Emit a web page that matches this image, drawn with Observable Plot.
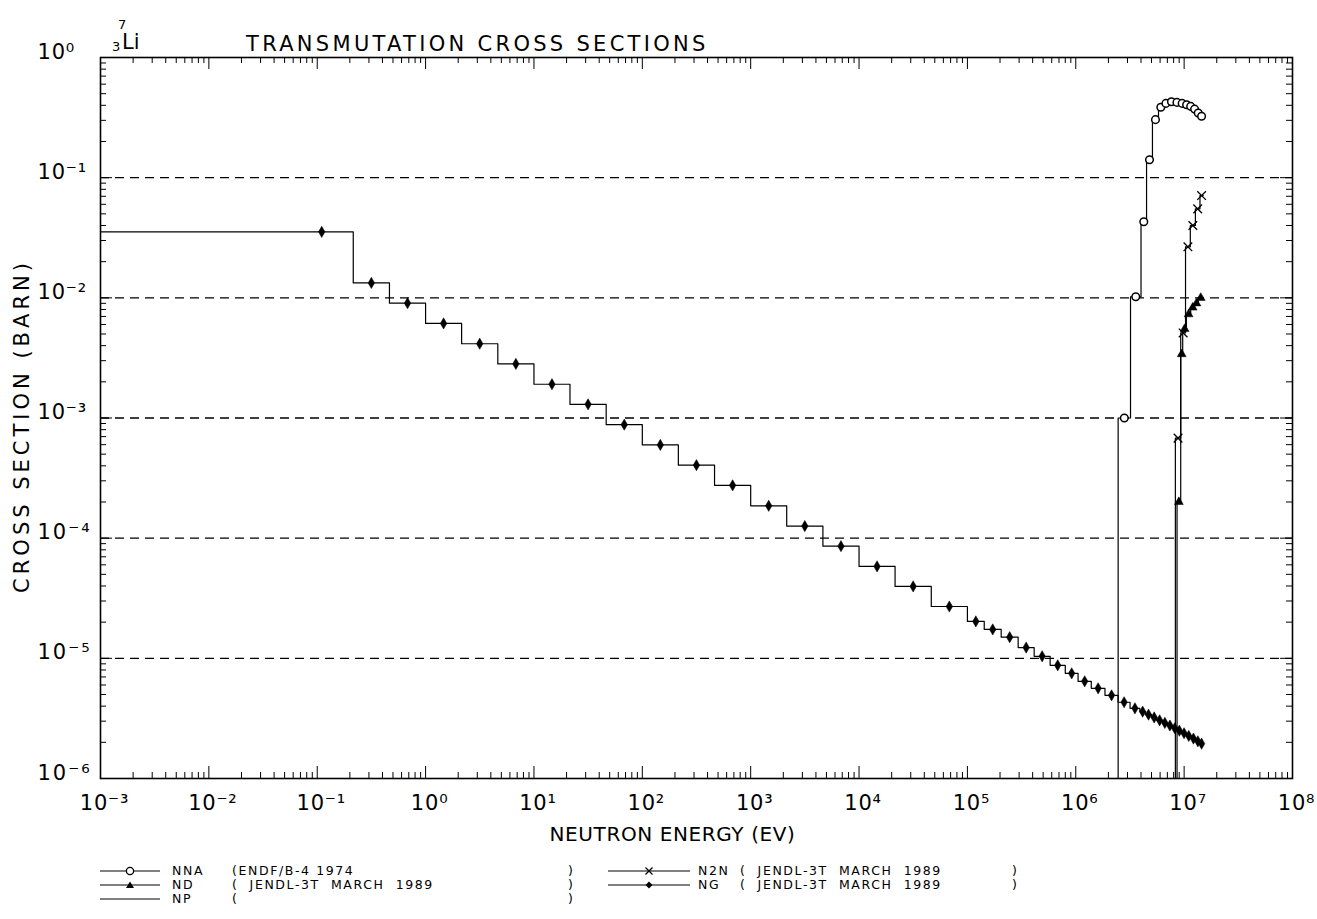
<!DOCTYPE html>
<html><head><meta charset="utf-8">
<script src="https://cdn.jsdelivr.net/npm/d3@7"></script>
<script src="https://cdn.jsdelivr.net/npm/@observablehq/plot@0.6"></script>
<style>
body{margin:0;background:#fff;}
#wrap{position:relative;width:1317px;height:919px;overflow:hidden;font-family:"DejaVu Sans",sans-serif;color:#000;background:#fff;}
#chart{position:absolute;left:0;top:0;}
.t{position:absolute;white-space:pre;line-height:1;}
#title{left:246px;top:34px;font-size:21px;letter-spacing:3.3px;}
.leg{position:absolute;font-size:12.5px;letter-spacing:1.6px;white-space:pre;line-height:1;}
.legsym{position:absolute;}
</style></head><body>
<div id="wrap">
<div id="chart"></div>
<div id="title" class="t">TRANSMUTATION CROSS SECTIONS</div>
<div id="legend"></div>
</div>
<script>
// ---------- axis ticks ----------
const xTickValues = [1e-3,1e-2,1e-1,1e0,1e1,1e2,1e3,1e4,1e5,1e6,1e7,1e8];
const xTickLabels = ["10⁻³","10⁻²","10⁻¹","10⁰","10¹","10²","10³","10⁴","10⁵","10⁶","10⁷","10⁸"];
const yTickValues = [1e0,1e-1,1e-2,1e-3,1e-4,1e-5,1e-6];
const yTickLabels = ["10⁰","10⁻¹","10⁻²","10⁻³","10⁻⁴","10⁻⁵","10⁻⁶"];
const gridValues = [1e-1,1e-2,1e-3,1e-4,1e-5];

// ---------- NG (capture), JENDL-3T : group edges (eV) and cross sections (barn) ----------
const ngEdges = [1e-3,0.215,0.464,1,2.15,4.64,10,21.5,46.4,100,215,464,1000,2150,4640,1e4,2.15e4,4.64e4,
  1e5,1.43e5,2.05e5,2.94e5,4.13e5,5.8e5,8e5,1.05e6,1.39e6,1.86e6,2.46e6,3.17e6,3.9e6,
  4.4e6,5.0e6,5.6e6,6.3e6,7.0e6,7.8e6,8.6e6,9.5e6,1.05e7,1.16e7,1.28e7,1.4e7,1.5e7];
const ngValues = [0.0354,
  0.0133,0.00903,0.00612,0.00415,0.00282,0.00191,0.00130,0.000880,0.000597,0.000405,0.000275,0.000186,0.000126,8.58e-5,5.82e-5,3.97e-5,2.70e-5,
  2.03e-5,1.74e-5,1.50e-5,1.23e-5,1.04e-5,8.75e-6,7.5e-6,6.44e-6,5.63e-6,4.92e-6,4.31e-6,3.84e-6,
  3.6e-6,3.4e-6,3.22e-6,3.05e-6,2.9e-6,2.76e-6,2.62e-6,2.5e-6,2.38e-6,2.26e-6,2.15e-6,2.04e-6,1.95e-6];
const ngFirstMarker = 0.11;

// ---------- NNA (n,n'alpha), ENDF/B-4 ----------
const nnaEdges = [2.46e6,3.2e6,4.0e6,4.5e6,5.1e6,5.8e6,6.4e6,7.2e6,8.1e6,9.1e6,1.01e7,1.1e7,1.2e7,1.3e7,1.4e7,1.5e7];
const nnaValues = [1.0e-3,0.0102,0.043,0.141,0.304,0.385,0.415,0.428,0.423,0.415,0.404,0.392,0.372,0.345,0.324];

// ---------- N2N, JENDL-3T ----------
const n2nEdges = [8.3e6,9.3e6,1.03e7,1.14e7,1.27e7,1.4e7,1.5e7];
const n2nValues = [6.8e-4,5.1e-3,0.0266,0.040,0.055,0.071];

// ---------- ND, JENDL-3T ----------
const ndEdges = [8.6e6,9.3e6,9.7e6,1.05e7,1.15e7,1.25e7,1.35e7,1.5e7];
const ndValues = [2.0e-4,3.4e-3,5.5e-3,7.3e-3,8.3e-3,9.0e-3,1.0e-2];

// ---------- legend ----------
const legendNames = ["NNA","ND","NP","N2N","NG"];
const legendSources = ["(ENDF/B-4 1974","(  JENDL-3T  MARCH  1989","(","(  JENDL-3T  MARCH  1989","(  JENDL-3T  MARCH  1989"];

// ---------- build ----------
const W = 1317, H = 860;
const mL = 100, mR = 25, mT = 57, mB = 82;
const FW = W - mL - mR, FH = H - mT - mB;
const yMin = 1e-6;

function steps(edges, values, threshold) {
  const pts = [];
  if (threshold) pts.push({e: edges[0], s: yMin});
  values.forEach((v, i) => pts.push({e: edges[i], s: v}));
  pts.push({e: edges[edges.length - 1], s: values[values.length - 1]});
  return pts;
}
function centers(edges, values) {
  return values.map((v, i) => ({e: Math.sqrt(edges[i] * edges[i + 1]), s: v}));
}

const ngLine = steps(ngEdges, ngValues, false);
const ngMarks = centers(ngEdges, ngValues);
ngMarks[0].e = ngFirstMarker;
const nnaLine = steps(nnaEdges, nnaValues, true);
const nnaMarks = centers(nnaEdges, nnaValues);
const n2nLine = steps(n2nEdges, n2nValues, true);
const n2nMarks = centers(n2nEdges, n2nValues);
const ndLine = steps(ndEdges, ndValues, true);
const ndMarks = centers(ndEdges, ndValues);

const xMinor = [], yMinor = [];
for (let k = -3; k < 8; k++) for (let m = 2; m <= 9; m++) xMinor.push(m * Math.pow(10, k));
for (let k = -6; k < 0; k++) for (let m = 2; m <= 9; m++) yMinor.push(m * Math.pow(10, k));

const minorLen = 6, majorLen = 12;
const lineOpts = {x: "e", y: "s", curve: "step-after", stroke: "#000", strokeWidth: 1.2};

const chart = Plot.plot({
  width: W, height: H,
  marginLeft: mL, marginRight: mR, marginTop: mT, marginBottom: mB,
  x: {type: "log", domain: [1e-3, 1e8], axis: null},
  y: {type: "log", domain: [1e-6, 1], axis: null},
  style: {fontFamily: "'DejaVu Sans', sans-serif", background: "#fff", color: "#000"},
  marks: [
    Plot.ruleY(gridValues, {y: d => d, stroke: "#000", strokeWidth: 1.4, strokeDasharray: "9,6"}),
    // ticks, inward on all sides
    Plot.tickX(xMinor, {x: d => d, insetTop: FH - minorLen, stroke: "#000"}),
    Plot.tickX(xMinor, {x: d => d, insetBottom: FH - minorLen, stroke: "#000"}),
    Plot.tickX(xTickValues, {x: d => d, insetTop: FH - majorLen, stroke: "#000"}),
    Plot.tickX(xTickValues, {x: d => d, insetBottom: FH - majorLen, stroke: "#000"}),
    Plot.tickY(yMinor, {y: d => d, insetRight: FW - minorLen, stroke: "#000"}),
    Plot.tickY(yMinor, {y: d => d, insetLeft: FW - minorLen, stroke: "#000"}),
    Plot.tickY(yTickValues, {y: d => d, insetRight: FW - majorLen, stroke: "#000"}),
    Plot.tickY(yTickValues, {y: d => d, insetLeft: FW - majorLen, stroke: "#000"}),
    Plot.frame({stroke: "#000", strokeWidth: 1.6}),
    // series
    Plot.line(ngLine, lineOpts),
    Plot.line(nnaLine, lineOpts),
    Plot.line(n2nLine, lineOpts),
    Plot.line(ndLine, lineOpts),
    Plot.dot(ngMarks, {x: "e", y: "s", symbol: "diamond", r: 3.4, fill: "#000", stroke: "#000", strokeWidth: 0.5}),
    Plot.dot(nnaMarks, {x: "e", y: "s", symbol: "circle", r: 3.8, fill: "#fff", stroke: "#000", strokeWidth: 1.5}),
    Plot.dot(n2nMarks, {x: "e", y: "s", symbol: "times", r: 4, fill: "none", stroke: "#000", strokeWidth: 1.3}),
    Plot.dot(ndMarks, {x: "e", y: "s", symbol: "triangle", r: 3.3, fill: "#000", stroke: "#000", strokeWidth: 0.5}),
    // tick labels
    Plot.text(xTickValues, {x: d => d, text: (d, i) => xTickLabels[i], frameAnchor: "bottom", dy: 31, dx: 4, fontSize: 21, fill: "#000", className: "xtl"}),
    Plot.text(yTickValues, {y: d => d, text: (d, i) => yTickLabels[i], frameAnchor: "left", textAnchor: "start", lineAnchor: "bottom", dx: -63, dy: 1, fontSize: 21, fill: "#000"}),
    // axis titles
    Plot.text(["NEUTRON ENERGY (EV)"], {frameAnchor: "bottom", textAnchor: "middle", dy: 62, dx: -24, fontSize: 20, fill: "#000"}),
    Plot.text(["CROSS SECTION (BARN)"], {frameAnchor: "left", textAnchor: "middle", rotate: -90, dx: -78, dy: 8, fontSize: 21, fill: "#000"})
  ]
});
document.getElementById("chart").appendChild(chart);
d3.select(chart).selectAll("text").style("letter-spacing", "2px");
d3.select(chart).selectAll("text").filter(function() { return xTickLabels.includes(this.textContent); }).style("letter-spacing", "0.8px");
d3.select(chart).selectAll("text").filter(function() { return this.textContent === "NEUTRON ENERGY (EV)"; }).style("letter-spacing", "0.6px");
d3.select(chart).selectAll("text").filter(function() { return this.textContent === "CROSS SECTION (BARN)"; }).style("letter-spacing", "4px");

// nuclide symbol
const wrap = document.getElementById("wrap");
const nuc = document.createElement("div");
nuc.className = "t";
nuc.style.cssText = "left:112px;top:32px;font-size:21px;";
nuc.innerHTML = '<span style="position:absolute;left:6px;top:-14px;font-size:13px">7</span><span style="position:absolute;left:0px;top:8px;font-size:13px">3</span><span style="position:absolute;left:10px;top:0px">Li</span>';
wrap.appendChild(nuc);

// legend (HTML)
const legend = document.getElementById("legend");
const rowY = [866, 880, 894];
const cols = [
  {lineX: 100, nameX: 172, srcX: 232, closeX: 568},
  {lineX: 608, nameX: 698, srcX: 740, closeX: 1012}
];
function sym(name, c) {
  if (name === "NNA") return `<circle cx="${c}" cy="5" r="3.6" fill="#fff" stroke="#000" stroke-width="1.3"/>`;
  if (name === "ND") return `<path d="M${c},1.5L${c+4},8L${c-4},8Z" fill="#000"/>`;
  if (name === "N2N") return `<path d="M${c-3.5},1.5L${c+3.5},8.5M${c+3.5},1.5L${c-3.5},8.5" stroke="#000" stroke-width="1.3"/>`;
  if (name === "NG") return `<path d="M${c},1.5L${c+3.5},5L${c},8.5L${c-3.5},5Z" fill="#000"/>`;
  return "";
}
legendNames.forEach((name, i) => {
  const c = i < 3 ? cols[0] : cols[1];
  const y = rowY[i < 3 ? i : i - 3];
  const lw = i < 3 ? 60 : 82;
  const svg = `<svg class="legsym" style="left:${c.lineX}px;top:${y}px" width="${lw}" height="10"><line x1="0" x2="${lw}" y1="5" y2="5" stroke="#000" stroke-width="1.1"/>${sym(name, lw / 2)}</svg>`;
  legend.insertAdjacentHTML("beforeend", svg);
  legend.insertAdjacentHTML("beforeend", `<div class="leg" style="left:${c.nameX}px;top:${y-1}px">${name}</div>`);
  legend.insertAdjacentHTML("beforeend", `<div class="leg" style="left:${c.srcX}px;top:${y-1}px">${legendSources[i]}</div>`);
  legend.insertAdjacentHTML("beforeend", `<div class="leg" style="left:${c.closeX}px;top:${y-1}px">)</div>`);
});
</script>
</body></html>
